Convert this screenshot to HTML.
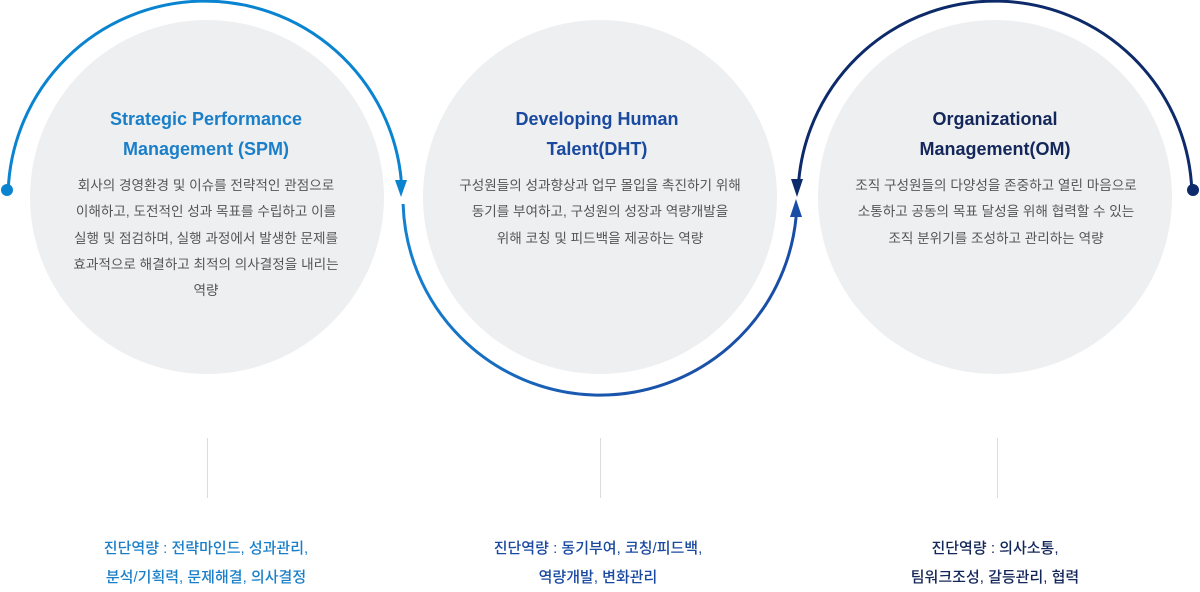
<!DOCTYPE html>
<html><head><meta charset="utf-8"><style>
body{margin:0;width:1200px;height:588px;background:#fff;position:relative;overflow:hidden;font-family:"Liberation Sans","Noto Sans CJK KR",sans-serif}
.c{position:absolute;width:354px;height:354px;border-radius:50%;background:#eeeff1;top:20px}
.t{position:absolute;width:400px;text-align:center;font-weight:bold;font-size:18px;line-height:30px;top:104px}
.b{position:absolute;width:400px;text-align:center;font-size:13.6px;line-height:26.3px;color:#555;top:173px;white-space:nowrap}
.v{position:absolute;width:1px;height:60px;background:#ddd;top:438px}
.k{position:absolute;width:400px;text-align:center;font-size:15px;font-weight:500;line-height:29px;top:534px}
</style></head><body>
<div class="c" style="left:30px"></div>
<div class="c" style="left:423px"></div>
<div class="c" style="left:818px"></div>
<svg width="1200" height="588" style="position:absolute;left:0;top:0">
<defs><linearGradient id="g" x1="0" x2="1" y1="0" y2="0"><stop offset="0" stop-color="#1580d0"/><stop offset="0.5" stop-color="#1a55ac"/><stop offset="1" stop-color="#1a4ea6"/></linearGradient></defs>
<path d="M8.2 190 A197 197 0 0 1 401.2 180" fill="none" stroke="#0a84d0" stroke-width="3"/>
<polygon points="395,180 407,180 401,197" fill="#0a84d0"/>
<circle cx="7" cy="190" r="6" fill="#0a84d0"/>
<path d="M403.1 204 A197 197 0 0 0 796.1 217" fill="none" stroke="url(#g)" stroke-width="3"/>
<polygon points="790,217 802,217 796,199" fill="#1a4ea6"/>
<path d="M1191.8 190 A197 197 0 0 0 798.8 180" fill="none" stroke="#0d2a6a" stroke-width="3"/>
<polygon points="791,179 803,179 797,197" fill="#0d2a6a"/>
<circle cx="1193" cy="190" r="6" fill="#0d2a6a"/>
</svg>
<div class="t" style="left:6px;color:#1a7fc8">Strategic Performance<br>Management (SPM)</div>
<div class="t" style="left:397px;color:#1a4aa0">Developing Human<br>Talent(DHT)</div>
<div class="t" style="left:795px;color:#14275a">Organizational<br>Management(OM)</div>
<div class="b" style="left:6px">회사의 경영환경 및 이슈를 전략적인 관점으로<br>이해하고, 도전적인 성과 목표를 수립하고 이를<br>실행 및 점검하며, 실행 과정에서 발생한 문제를<br>효과적으로 해결하고 최적의 의사결정을 내리는<br>역량</div>
<div class="b" style="left:400px">구성원들의 성과향상과 업무 몰입을 촉진하기 위해<br>동기를 부여하고, 구성원의 성장과 역량개발을<br>위해 코칭 및 피드백을 제공하는 역량</div>
<div class="b" style="left:796px">조직 구성원들의 다양성을 존중하고 열린 마음으로<br>소통하고 공동의 목표 달성을 위해 협력할 수 있는<br>조직 분위기를 조성하고 관리하는 역량</div>
<div class="v" style="left:207px"></div>
<div class="v" style="left:600px"></div>
<div class="v" style="left:997px"></div>
<div class="k" style="left:6px;color:#1a7fc8">진단역량 : 전략마인드, 성과관리,<br>분석/기획력, 문제해결, 의사결정</div>
<div class="k" style="left:398px;color:#1a4aa0">진단역량 : 동기부여, 코칭/피드백,<br>역량개발, 변화관리</div>
<div class="k" style="left:795px;color:#14275a">진단역량 : 의사소통,<br>팀워크조성, 갈등관리, 협력</div>
</body></html>
